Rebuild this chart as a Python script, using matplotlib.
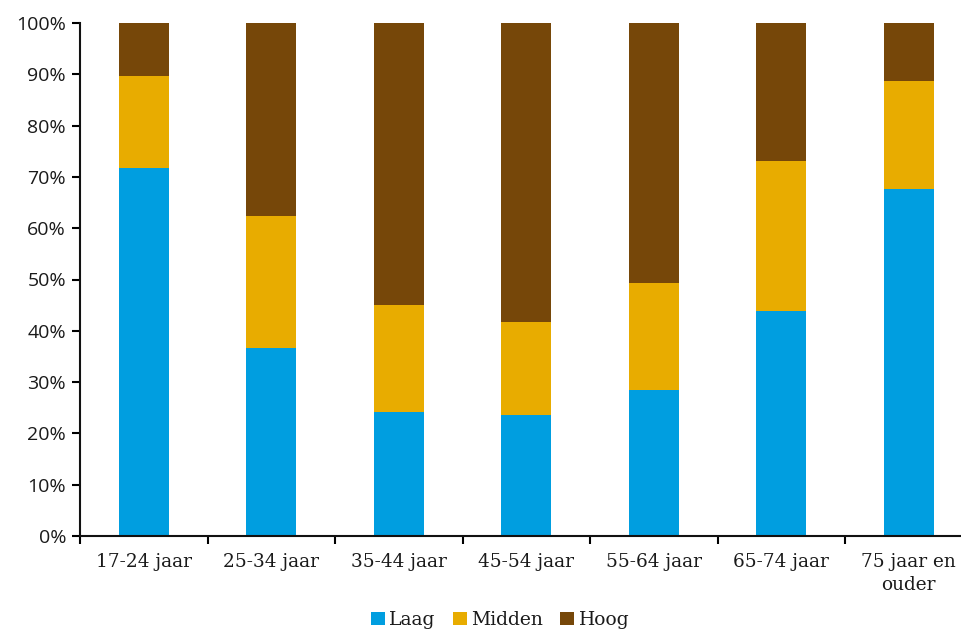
import matplotlib
matplotlib.use("Agg")
import matplotlib.pyplot as plt
from matplotlib.ticker import FuncFormatter, FixedLocator
import numpy as np

categories = ["17-24 jaar", "25-34 jaar", "35-44 jaar", "45-54 jaar",
              "55-64 jaar", "65-74 jaar", "75 jaar en\nouder"]
laag = [71.7, 36.7, 24.2, 23.6, 28.4, 43.9, 67.6]
midden = [17.9, 25.7, 20.9, 18.2, 21.0, 29.2, 21.1]
hoog = [10.4, 37.6, 54.9, 58.2, 50.6, 26.9, 11.3]
series_names = ["Laag", "Midden", "Hoog"]
colors = ["#009EE0", "#E8AC00", "#764709"]

W, H = 962, 632
fig = plt.figure(figsize=(W / 100, H / 100), dpi=100)
left_px, right_px, top_px, bottom_px = 80, 972.5, 23, 536
ax = fig.add_axes([left_px / W, 1 - bottom_px / H,
                   (right_px - left_px) / W, (bottom_px - top_px) / H])

x = np.arange(len(categories))
bottom = np.zeros(len(categories))
handles = []
for name, vals, c in zip(series_names, [laag, midden, hoog], colors):
    b = ax.bar(x, vals, width=0.39, bottom=bottom, color=c,
               edgecolor="none", label=name)
    handles.append(b)
    bottom += np.array(vals)

serif = "DejaVu Serif"
ax.set_xlim(-0.5, len(categories) - 0.5)
ax.set_ylim(0, 100)
ax.set_yticks(np.arange(0, 101, 10))
ax.yaxis.set_major_formatter(FuncFormatter(lambda v, p: f"{int(v)}%"))
ax.set_xticks(x)
ax.set_xticklabels(categories, fontsize=13.3, family=serif,
                   linespacing=1.35, color="#1a1a1a")
ax.xaxis.set_minor_locator(FixedLocator(np.arange(-0.5, len(categories), 1.0)))
ax.tick_params(axis="x", which="major", length=0, pad=12)
ax.tick_params(axis="x", which="minor", length=6, width=1.5, direction="out")
ax.tick_params(axis="y", length=6, width=1.5, direction="out", labelsize=14,
               pad=4)
for lbl in ax.get_yticklabels():
    lbl.set_family("Open Sans")
    lbl.set_color("#1a1a1a")

for s in ["top", "right"]:
    ax.spines[s].set_visible(False)
for s in ["left", "bottom"]:
    ax.spines[s].set_linewidth(1.5)
    ax.spines[s].set_color("#111111")

fig.legend(handles=handles, labels=series_names, loc="center",
           bbox_to_anchor=(500 / W, 1 - 620 / H), ncol=3, frameon=False,
           prop={"family": serif, "size": 13.5},
           handlelength=0.75, handleheight=0.75, handletextpad=0.25,
           columnspacing=0.9, labelcolor="#1a1a1a")

fig.savefig("out.png", dpi=100)
